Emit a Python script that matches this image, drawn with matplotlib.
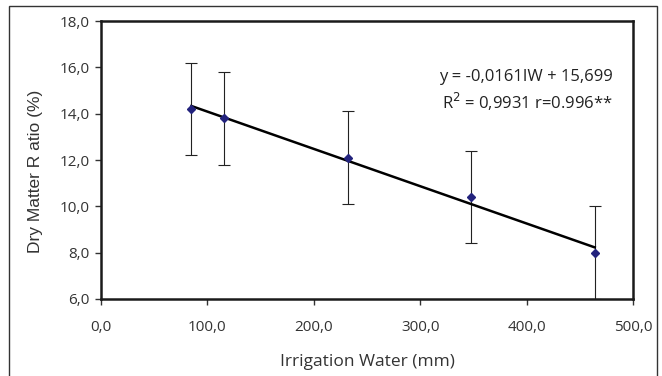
import matplotlib.pyplot as plt
from matplotlib.patches import Rectangle

# irrigation water (mm) and dry matter ratio (%)
irrigation = [85, 116, 232, 348, 464]
dry_matter = [14.2, 13.8, 12.1, 10.4, 8.0]
std_err = [2.0, 2.0, 2.0, 2.0, 2.0]
slope = -0.0161
intercept = 15.699
x_ticks = [0, 100, 200, 300, 400, 500]
y_ticks = [6, 8, 10, 12, 14, 16, 18]

plt.rcParams['font.family'] = ['Open Sans', 'DejaVu Sans']

fig = plt.figure(figsize=(6.62, 3.76), dpi=100)
# axes box: x 101..633, y 21..299 pixels
ax = fig.add_axes([101 / 662, 1 - 299 / 376, 532 / 662, 278 / 376])

ax.errorbar(irrigation, dry_matter, yerr=std_err, fmt='none', ecolor='#222222',
            elinewidth=0.8, capsize=4, capthick=0.8, zorder=2)
fit_x = [irrigation[0], irrigation[-1]]
fit_y = [slope * v + intercept for v in fit_x]
ax.plot(fit_x, fit_y, color='black', linewidth=1.8, zorder=3)
ax.plot(irrigation, dry_matter, linestyle='none', marker='D', markersize=4,
        color='#23237d', zorder=4)

ax.set_xlim(0, 500)
ax.set_ylim(6, 18)
ax.set_xticks(x_ticks)
ax.set_yticks(y_ticks)
ax.set_xticklabels([f"{v:.1f}".replace('.', ',') for v in x_ticks])
ax.set_yticklabels([f"{v:.1f}".replace('.', ',') for v in y_ticks])
ax.tick_params(axis='x', labelsize=11, length=4, width=1, pad=11, colors='#333333')
ax.tick_params(axis='y', labelsize=11, length=4, width=1, pad=4, colors='#333333')
for s in ax.spines.values():
    s.set_linewidth(1.8)
    s.set_color('#1a1a1a')

ax.set_xlabel('Irrigation Water (mm)', fontsize=12.5, color='#333333')
ax.xaxis.set_label_coords(0.5, -55 / 278)
ax.set_ylabel('Dry Matter R atio (%)', fontsize=12.5, color='#333333',
              family=['Liberation Sans', 'DejaVu Sans'])
ax.yaxis.set_label_coords(-58 / 532, 0.46)

ax.text(0.962, 0.799, 'y = -0,0161IW + 15,699', transform=ax.transAxes,
        ha='right', va='center', fontsize=12, color='#222222')
ax.text(0.962, 0.709, r'R$^{2}$ = 0,9931 r=0.996**', transform=ax.transAxes,
        ha='right', va='center', fontsize=12, color='#222222')

fig.patches.append(Rectangle((9 / 662, -10 / 376), 648 / 662, 380 / 376,
                             transform=fig.transFigure, fill=False,
                             edgecolor='#333333', linewidth=1))

fig.savefig('out.png', dpi=100)
